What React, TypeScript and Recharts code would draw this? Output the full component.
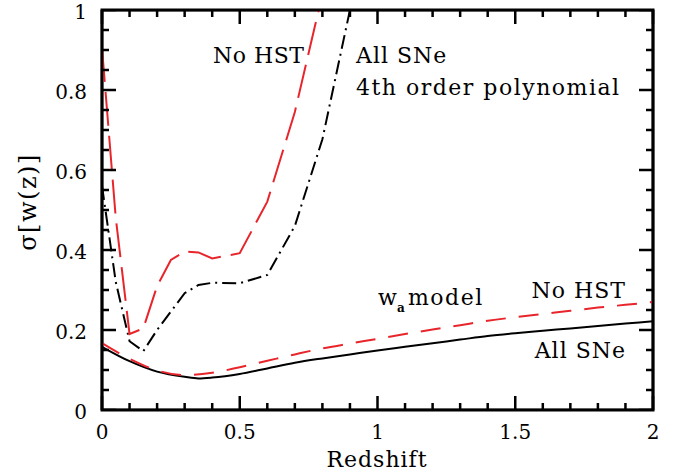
import { LineChart, Line, XAxis, YAxis, ReferenceArea } from 'recharts'

// 4th order polynomial fits
const polyNoHst = [
  { z: 0, s: 0.905 },
  { z: 0.05, s: 0.48 },
  { z: 0.1, s: 0.19 },
  { z: 0.15, s: 0.204 },
  { z: 0.2, s: 0.31 },
  { z: 0.25, s: 0.375 },
  { z: 0.3, s: 0.396 },
  { z: 0.35, s: 0.394 },
  { z: 0.4, s: 0.379 },
  { z: 0.5, s: 0.392 },
  { z: 0.6, s: 0.521 },
  { z: 0.7, s: 0.745 },
  { z: 0.8, s: 1.04 },
]

const polyAllSne = [
  { z: 0, s: 0.56 },
  { z: 0.05, s: 0.32 },
  { z: 0.1, s: 0.172 },
  { z: 0.15, s: 0.147 },
  { z: 0.2, s: 0.2 },
  { z: 0.25, s: 0.246 },
  { z: 0.3, s: 0.292 },
  { z: 0.35, s: 0.3125 },
  { z: 0.4, s: 0.318 },
  { z: 0.5, s: 0.317 },
  { z: 0.6, s: 0.3375 },
  { z: 0.7, s: 0.46 },
  { z: 0.8, s: 0.677 },
  { z: 0.9, s: 1.0 },
]

// w_a model
const waAllSne = [
  { z: 0, s: 0.158 },
  { z: 0.1, s: 0.122 },
  { z: 0.2, s: 0.096 },
  { z: 0.3, s: 0.083 },
  { z: 0.35, s: 0.079 },
  { z: 0.4, s: 0.081 },
  { z: 0.5, s: 0.09 },
  { z: 0.6, s: 0.104 },
  { z: 0.7, s: 0.118 },
  { z: 0.8, s: 0.129 },
  { z: 0.9, s: 0.139 },
  { z: 1.0, s: 0.149 },
  { z: 1.1, s: 0.158 },
  { z: 1.2, s: 0.167 },
  { z: 1.3, s: 0.176 },
  { z: 1.4, s: 0.185 },
  { z: 1.5, s: 0.192 },
  { z: 1.6, s: 0.198 },
  { z: 1.7, s: 0.204 },
  { z: 1.8, s: 0.21 },
  { z: 1.9, s: 0.216 },
  { z: 2.0, s: 0.222 },
]

const waNoHst = [
  { z: 0, s: 0.167 },
  { z: 0.1, s: 0.128 },
  { z: 0.2, s: 0.099 },
  { z: 0.3, s: 0.087 },
  { z: 0.4, s: 0.093 },
  { z: 0.5, s: 0.107 },
  { z: 0.6, s: 0.123 },
  { z: 0.7, s: 0.139 },
  { z: 0.8, s: 0.154 },
  { z: 0.9, s: 0.166 },
  { z: 1.0, s: 0.178 },
  { z: 1.1, s: 0.19 },
  { z: 1.2, s: 0.201 },
  { z: 1.3, s: 0.212 },
  { z: 1.4, s: 0.223 },
  { z: 1.5, s: 0.232 },
  { z: 1.6, s: 0.24 },
  { z: 1.7, s: 0.248 },
  { z: 1.8, s: 0.256 },
  { z: 1.9, s: 0.263 },
  { z: 2.0, s: 0.27 },
]

const xMajor = [0, 0.5, 1, 1.5, 2]
const xMinor = [0.1, 0.2, 0.3, 0.4, 0.6, 0.7, 0.8, 0.9, 1.1, 1.2, 1.3, 1.4, 1.6, 1.7, 1.8, 1.9]
const yMajor = [0, 0.2, 0.4, 0.6, 0.8, 1]
const yMinor = [0.05, 0.1, 0.15, 0.25, 0.3, 0.35, 0.45, 0.5, 0.55, 0.65, 0.7, 0.75, 0.85, 0.9, 0.95]

const RED = '#e8252b'
const FONT = '"DejaVu Serif", serif'
const W = 675
const H = 472
// plot box is 551 x 400 px; tick lengths converted to data units
const PX_X = 2 / 551
const PX_Y = 1 / 400
const MAJOR = 14
const MINOR = 7

const xTickText = { fill: '#000', fontSize: 20, fontFamily: FONT }
const yTickText = { fill: '#000', fontSize: 20, fontFamily: FONT, dy: 2 }
const xDomain = [0, 2]
const yDomain = [0, 1]
const fmt = (v: number) => String(v)

// inward frame ticks: a zigzag that runs along the edge and out/back at each tick
function withLen(majors: number[], minors: number[]) {
  return [...majors.map((v) => [v, MAJOR]), ...minors.map((v) => [v, MINOR])].sort((a, b) => a[0] - b[0])
}
function xEdge(base: number, dir: number) {
  const pts: { z: number; s: number }[] = []
  withLen(xMajor, xMinor).forEach(([v, len]) => {
    pts.push({ z: v, s: base }, { z: v, s: base + dir * len * PX_Y }, { z: v, s: base })
  })
  return pts
}
function yEdge(base: number, dir: number) {
  const pts: { z: number; s: number }[] = []
  withLen(yMajor, yMinor).forEach(([v, len]) => {
    pts.push({ z: base, s: v }, { z: base + dir * len * PX_X, s: v }, { z: base, s: v })
  })
  return pts
}

const bottomTicks = xEdge(0, 1)
const topTicks = xEdge(1, -1)
const leftTicks = yEdge(0, 1)
const rightTicks = yEdge(2, -1)

export default function App() {
  return (
    <div style={{ position: 'absolute', left: 0, top: 0, width: W, height: H }}>
      <LineChart width={W} height={H} margin={{ top: 10, right: 22, bottom: 61, left: 101 }}>
        <XAxis xAxisId="x" dataKey="z" type="number" domain={xDomain} ticks={xMajor} interval={0}
          height={1} tickSize={0} tickMargin={15} axisLine={false} tickLine={false}
          tick={xTickText} tickFormatter={fmt} />
        <YAxis yAxisId="y" type="number" domain={yDomain} allowDataOverflow ticks={yMajor} interval={0}
          width={1} tickSize={0} tickMargin={15} axisLine={false} tickLine={false}
          tick={yTickText} tickFormatter={fmt} />

        <Line xAxisId="x" yAxisId="y" data={waAllSne} dataKey="s" type="monotone" stroke="#000"
          strokeWidth={2} dot={false} isAnimationActive={false} />
        <Line xAxisId="x" yAxisId="y" data={waNoHst} dataKey="s" type="monotone" stroke={RED}
          strokeWidth={2} strokeDasharray="20 13" dot={false} isAnimationActive={false} />
        <Line xAxisId="x" yAxisId="y" data={polyAllSne} dataKey="s" type="linear" stroke="#000"
          strokeWidth={2} strokeDasharray="14 5 2 5" dot={false} isAnimationActive={false} />
        <Line xAxisId="x" yAxisId="y" data={polyNoHst} dataKey="s" type="linear" stroke={RED}
          strokeWidth={2} strokeDasharray="34 10" dot={false} isAnimationActive={false} />

        <Line xAxisId="x" yAxisId="y" data={bottomTicks} dataKey="s" type="linear" stroke="#000"
          strokeWidth={2.5} dot={false} isAnimationActive={false} />
        <Line xAxisId="x" yAxisId="y" data={topTicks} dataKey="s" type="linear" stroke="#000"
          strokeWidth={2.5} dot={false} isAnimationActive={false} />
        <Line xAxisId="x" yAxisId="y" data={leftTicks} dataKey="s" type="linear" stroke="#000"
          strokeWidth={2.5} dot={false} isAnimationActive={false} />
        <Line xAxisId="x" yAxisId="y" data={rightTicks} dataKey="s" type="linear" stroke="#000"
          strokeWidth={2.5} dot={false} isAnimationActive={false} />

        <ReferenceArea xAxisId="x" yAxisId="y" x1={0} x2={2} y1={0} y2={1} fill="none"
          stroke="#000" strokeWidth={3} ifOverflow="visible" />
      </LineChart>

      <svg width={W} height={H} style={{ position: 'absolute', left: 0, top: 0, pointerEvents: 'none' }}
        fontFamily={FONT} fill="#000">
        <text x={213} y={63} fontSize={22} letterSpacing={0.5}>No HST</text>
        <text x={356} y={63} fontSize={22} letterSpacing={1}>All SNe</text>
        <text x={356} y={95} fontSize={22} letterSpacing={1.5}>4th order polynomial</text>
        <text x={378} y={305} fontSize={22}>w</text>
        <text x={397} y={312} fontSize={12} fontWeight="bold">a</text>
        <text x={408} y={305} fontSize={22} letterSpacing={1.5}>model</text>
        <text x={626} y={298} fontSize={22} letterSpacing={1} textAnchor="end">No HST</text>
        <text x={626} y={358} fontSize={22} letterSpacing={1} textAnchor="end">All SNe</text>
        <text x={377} y={467} fontSize={22} letterSpacing={1} textAnchor="middle">Redshift</text>
        <text x={36} y={202} fontSize={24} letterSpacing={1.5} textAnchor="middle"
          transform="rotate(-90 36 202)">σ[w(z)]</text>
      </svg>
    </div>
  )
}
